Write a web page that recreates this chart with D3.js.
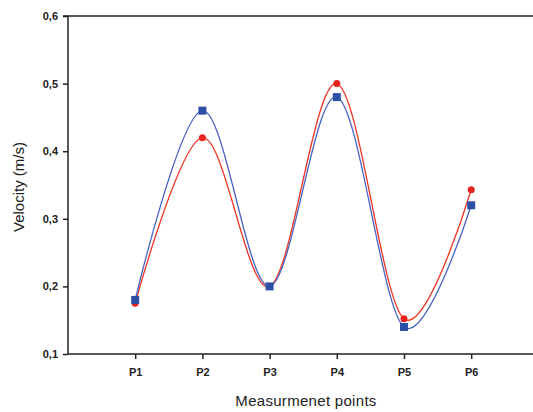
<!DOCTYPE html>
<html>
<head>
<meta charset="utf-8">
<script src="https://cdn.jsdelivr.net/npm/d3@7"></script>
<style>
  body { margin: 0; background: #fff; }
  text { font-family: "Liberation Sans", Arial, sans-serif; fill: #222; }
</style>
</head>
<body>
<script>
var categories = ['P1', 'P2', 'P3', 'P4', 'P5', 'P6'],
  redValues = [0.175, 0.42, 0.2, 0.50, 0.152, 0.343],
  blueValues = [0.18, 0.46, 0.2, 0.48, 0.14, 0.32],
  yTicks = [0.1, 0.2, 0.3, 0.4, 0.5, 0.6];

var width = 533,
  height = 412,
  plotLeft = 68,
  plotTop = 16,
  plotBottom = 354,
  svg = d3.select('body').append('svg').attr('width', width).attr('height', height),
  x = d3.scaleLinear().domain([0, 7]).range([plotLeft, plotLeft + 7 * 67.2]),
  y = d3.scaleLinear().domain([0.1, 0.6]).range([plotBottom, plotTop]),
  fmt = function(v) { return d3.format('.1f')(v).replace('.', ','); };

// axes
svg.append('g').attr('transform', 'translate(0,' + plotBottom + ')')
  .call(d3.axisBottom(x).tickValues(d3.range(1, 7)).tickSize(5).tickPadding(9)
    .tickFormat(function(d) { return categories[d - 1]; }))
  .call(function(g) {
    g.select('.domain').attr('d', 'M' + plotLeft + ',0H' + width).attr('stroke', '#222').attr('stroke-width', 1.5);
    g.selectAll('.tick line').attr('stroke', '#222').attr('stroke-width', 1.5);
    g.selectAll('.tick text').style('font-size', '11px').style('font-weight', 'bold').attr('fill', '#333');
  });

svg.append('g').attr('transform', 'translate(' + plotLeft + ',0)')
  .call(d3.axisLeft(y).tickValues(yTicks).tickSize(5).tickPadding(5).tickFormat(fmt))
  .call(function(g) {
    g.select('.domain').attr('d', 'M0,' + plotTop + 'V' + plotBottom).attr('stroke', '#222').attr('stroke-width', 1.5);
    g.selectAll('.tick line').attr('stroke', '#222').attr('stroke-width', 1.5);
    g.selectAll('.tick text').style('font-size', '11px').style('font-weight', 'bold').attr('fill', '#333');
  });

// top frame line
svg.append('line').attr('x1', plotLeft - 5).attr('x2', width).attr('y1', plotTop).attr('y2', plotTop)
  .attr('stroke', '#222').attr('stroke-width', 1.5);

// labels
svg.append('text').attr('x', 306).attr('y', 406).attr('text-anchor', 'middle')
  .style('font-size', '15px').style('letter-spacing', '0.3px').text('Measurmenet points');
svg.append('text').attr('transform', 'translate(24,187) rotate(-90)').attr('text-anchor', 'middle')
  .style('font-size', '15px').text('Velocity (m/s)');

var line = d3.line()
  .x(function(d, i) { return x(i + 1); })
  .y(function(d) { return y(d); })
  .curve(d3.curveCatmullRom.alpha(0));

// red series
svg.append('path').datum(redValues).attr('d', line)
  .attr('fill', 'none').attr('stroke', '#ee3524').attr('stroke-width', 1.3);
// blue series
svg.append('path').datum(blueValues).attr('d', line)
  .attr('fill', 'none').attr('stroke', '#4a62c4').attr('stroke-width', 1.3);

svg.selectAll('circle.red').data(redValues).enter().append('circle')
  .attr('class', 'red')
  .attr('cx', function(d, i) { return x(i + 1); })
  .attr('cy', function(d) { return y(d); })
  .attr('r', 3.5).attr('fill', '#e8231d');

svg.selectAll('rect.blue').data(blueValues).enter().append('rect')
  .attr('class', 'blue')
  .attr('x', function(d, i) { return x(i + 1) - 4; })
  .attr('y', function(d) { return y(d) - 4; })
  .attr('width', 8).attr('height', 8).attr('fill', '#2d4fa5');
</script>
</body>
</html>
